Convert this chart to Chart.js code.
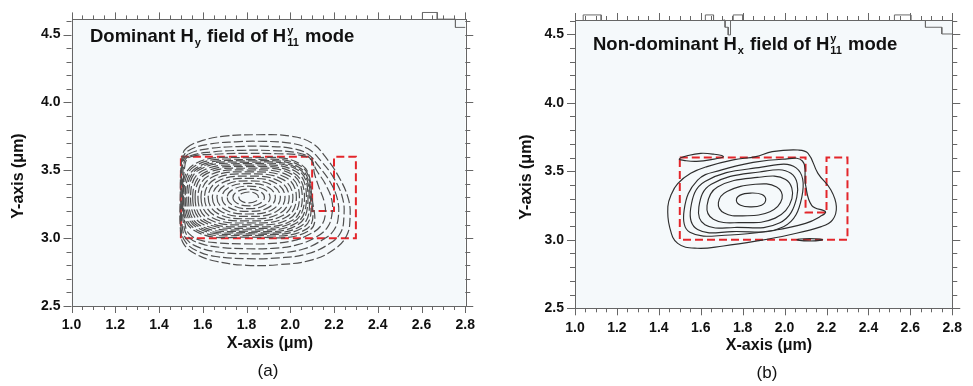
<!DOCTYPE html>
<html><head><meta charset="utf-8">
<script src="https://cdn.jsdelivr.net/npm/chart.js@4.4.1/dist/chart.umd.min.js"></script>
<style>
html,body{margin:0;padding:0;background:#fff;}
#wrap{position:relative;width:973px;height:386px;overflow:hidden;background:#fff;}
canvas{position:absolute;top:0;}
#ca{left:0;width:486px;height:386px;}
#cb{left:486px;width:487px;height:386px;}
</style></head><body>
<div id="wrap"><canvas id="ca" width="486" height="386"></canvas><canvas id="cb" width="487" height="386"></canvas></div>
<script>
// ---------- axes ----------
const xTickValues = [1.0, 1.2, 1.4, 1.6, 1.8, 2.0, 2.2, 2.4, 2.6, 2.8];
const yTickValues = [2.5, 3.0, 3.5, 4.0, 4.5];
const xMinorPerMajor = 4;   // minor ticks every 0.05
const yMinorPerMajor = 5;   // minor ticks every 0.1

// ---------- waveguide outline (red dashed) ----------
const guideX = [1.5, 2.1, 2.1, 2.2, 2.2, 2.3, 2.3, 1.5];
const guideY = [3.6, 3.6, 3.2, 3.2, 3.6, 3.6, 3.0, 3.0];

// ---------- panel (a): dominant Hy contours (dashed) ----------
// inner contours (inside the core): extents of each closed ring
const aCenter = [1.81, 3.30];
const aRingLeft     = [1.765,1.738,1.712,1.688,1.665,1.644,1.625,1.608,1.592,1.578,1.565,1.554,1.544,1.535,1.527,1.520,1.514,1.508];
const aRingRight    = [1.855,1.882,1.908,1.932,1.955,1.976,1.995,2.012,2.028,2.042,2.055,2.065,2.074,2.081,2.087,2.092,2.096,2.099];
const aRingRightLow = [1.855,1.882,1.908,1.932,1.955,1.976,1.995,2.012,2.028,2.042,2.055,2.065,2.074,2.081,2.100,2.115,2.130,2.145];
const aRingTop      = [3.340,3.362,3.383,3.403,3.422,3.440,3.457,3.473,3.488,3.502,3.515,3.527,3.538,3.549,3.559,3.569,3.579,3.592];
const aRingBottom   = [3.260,3.238,3.217,3.197,3.178,3.160,3.143,3.127,3.112,3.098,3.085,3.073,3.062,3.051,3.041,3.031,3.021,3.008];
const aRingCorner   = [0.71,0.71,0.72,0.73,0.74,0.75,0.76,0.77,0.78,0.79,0.80,0.80,0.81,0.82,0.82,0.82,0.83,0.83];
// outer contours (spilling out of the core), traced point by point
const aOuter1 = [[1.545,3.600],[1.650,3.618],[1.800,3.625],[1.940,3.622],[2.050,3.610],[2.100,3.570],[2.110,3.480],[2.130,3.380],[2.155,3.270],[2.160,3.170],[2.140,3.090],[2.090,3.030],[2.010,2.980],[1.900,2.960],[1.780,2.958],[1.670,2.965],[1.600,2.980],[1.550,3.015],[1.522,3.080],[1.512,3.300],[1.520,3.550]];
const aOuter2 = [[1.540,3.605],[1.640,3.635],[1.780,3.647],[1.920,3.645],[2.030,3.630],[2.090,3.590],[2.120,3.500],[2.160,3.400],[2.190,3.280],[2.190,3.170],[2.170,3.080],[2.120,3.010],[2.030,2.950],[1.920,2.925],[1.800,2.922],[1.680,2.932],[1.595,2.958],[1.540,3.000],[1.515,3.075],[1.508,3.300],[1.515,3.560]];
const aOuter3 = [[1.535,3.620],[1.630,3.660],[1.760,3.675],[1.900,3.676],[2.010,3.660],[2.080,3.620],[2.130,3.530],[2.180,3.420],[2.215,3.290],[2.220,3.160],[2.200,3.060],[2.150,2.990],[2.060,2.920],[1.940,2.890],[1.800,2.885],[1.670,2.898],[1.585,2.930],[1.530,2.985],[1.508,3.065],[1.504,3.300],[1.510,3.560]];
const aOuter4 = [[1.530,3.640],[1.620,3.690],[1.750,3.710],[1.880,3.713],[2.000,3.700],[2.080,3.660],[2.140,3.570],[2.200,3.440],[2.240,3.290],[2.245,3.150],[2.230,3.040],[2.180,2.960],[2.080,2.885],[1.950,2.855],[1.800,2.849],[1.660,2.865],[1.575,2.905],[1.522,2.970],[1.502,3.060],[1.500,3.300],[1.507,3.570]];
const aOuter5 = [[1.526,3.664],[1.600,3.720],[1.700,3.752],[1.850,3.762],[2.000,3.752],[2.100,3.700],[2.160,3.600],[2.220,3.457],[2.266,3.287],[2.273,3.140],[2.258,3.020],[2.205,2.922],[2.100,2.840],[1.950,2.805],[1.800,2.800],[1.660,2.830],[1.565,2.885],[1.512,2.960],[1.498,3.060],[1.497,3.300],[1.505,3.590]];

// ---------- panel (b): non-dominant Hx contours (solid) ----------
const bRing1 = [[1.770,3.287],[1.790,3.252],[1.835,3.240],[1.890,3.252],[1.910,3.292],[1.892,3.330],[1.840,3.341],[1.788,3.326]];
const bRing2 = [[1.684,3.270],[1.712,3.195],[1.800,3.175],[1.930,3.205],[1.988,3.300],[1.962,3.385],[1.860,3.405],[1.725,3.352]];
const bRing3 = [[1.630,3.250],[1.660,3.150],[1.780,3.125],[1.955,3.158],[2.035,3.300],[2.005,3.440],[1.870,3.455],[1.680,3.385]];
const bRing4 = [[1.591,3.240],[1.620,3.110],[1.760,3.090],[1.975,3.122],[2.058,3.310],[2.030,3.485],[1.880,3.495],[1.650,3.405]];
const bRing5 = [[1.552,3.230],[1.585,3.075],[1.750,3.060],[1.995,3.095],[2.082,3.310],[2.055,3.525],[1.890,3.530],[1.620,3.425]];
const bRing6 = [[1.521,3.220],[1.548,3.055],[1.740,3.035],[1.950,3.070],[2.100,3.120],[2.170,3.170],[2.195,3.205],[2.130,3.250],[2.100,3.400],[2.085,3.575],[1.990,3.588],[1.850,3.565],[1.700,3.510],[1.585,3.435]];
const bRing7 = [[1.443,3.242],[1.451,3.096],[1.490,2.974],[1.583,2.938],[1.708,2.955],[1.863,2.990],[2.019,3.035],[2.175,3.096],[2.229,3.145],[2.247,3.242],[2.221,3.364],[2.159,3.485],[2.112,3.631],[2.065,3.655],[1.941,3.643],[1.863,3.607],[1.755,3.583],[1.630,3.534],[1.552,3.485],[1.490,3.410],[1.459,3.330]];
const bLensTop    = [[1.498,3.590],[1.540,3.615],[1.600,3.631],[1.660,3.625],[1.708,3.607],[1.650,3.585],[1.580,3.572],[1.530,3.577]];
const bLensBottom = [[2.058,3.000],[2.120,3.009],[2.182,3.000],[2.120,2.991]];

// ---------- stair-step artefacts at the top edge ----------
const aEdge  = [[2.604,4.612],[2.604,4.663],[2.672,4.663],[2.672,4.614],[2.755,4.614],[2.755,4.553],[2.80,4.553]];
const bEdge1 = [[1.039,4.604],[1.039,4.641],[1.125,4.641],[1.125,4.604]];
const bEdge2 = [[1.622,4.604],[1.622,4.641],[1.661,4.641],[1.661,4.604]];
const bEdge3 = [[1.708,4.604],[1.716,4.604],[1.716,4.551],[1.731,4.551],[1.731,4.495],[1.742,4.495],[1.742,4.604]];
const bEdge4 = [[1.755,4.604],[1.755,4.641],[1.801,4.641],[1.801,4.604]];
const bEdge5 = [[2.524,4.604],[2.524,4.641],[2.602,4.641],[2.602,4.604]];
const bEdge6 = [[2.672,4.604],[2.672,4.551],[2.750,4.551],[2.750,4.502],[2.800,4.502]];

// ---------- helpers ----------
const FAM = '"Liberation Sans", Arial, Helvetica, sans-serif';
const pts = arr => arr.map(p => ({x: p[0], y: p[1]}));
function aRing(i) {
  const cx = aCenter[0], cy = aCenter[1], c = aRingCorner[i];
  const L = aRingLeft[i], R = aRingRight[i], Rl = aRingRightLow[i], T = aRingTop[i], B = aRingBottom[i];
  return [
    {x: L, y: cy},
    {x: cx - c*(cx-L), y: cy - c*(cy-B)},
    {x: cx, y: B},
    {x: cx + c*(Rl-cx), y: cy - c*(cy-B)},
    {x: R, y: cy},
    {x: cx + c*(R-cx), y: cy + c*(T-cy)},
    {x: cx, y: T},
    {x: cx - c*(cx-L), y: cy + c*(T-cy)}
  ];
}
function guideDataset() {
  return {data: guideX.map((x, i) => ({x, y: guideY[i]})), borderColor: '#e3262b', borderWidth: 2,
          borderDash: [8, 4], tension: 0, closed: true, pointRadius: 0, fill: false};
}
function edgeDataset(arr) {
  return {data: pts(arr), borderColor: '#6a6a6a', borderWidth: 1, tension: 0, clip: false, pointRadius: 0, fill: false};
}
function aDashed(data) {
  return {data, borderColor: '#505050', borderWidth: 1.2, borderDash: [9, 3],
          tension: 0.42, closed: true, pointRadius: 0, fill: false};
}

function drawRich(ctx, x, y, parts, size) {
  let cx = x;
  ctx.textBaseline = 'alphabetic'; ctx.textAlign = 'left';
  for (const p of parts) {
    if (p.t !== undefined) {
      ctx.font = `bold ${size}px ${FAM}`;
      ctx.fillText(p.t, cx, y); cx += ctx.measureText(p.t).width;
    } else {
      const s = Math.round(size * 0.62);
      ctx.font = `bold ${s}px ${FAM}`;
      let w = 0;
      if (p.sup) { ctx.fillText(p.sup, cx + 1, y - size * 0.42); w = Math.max(w, ctx.measureText(p.sup).width); }
      if (p.sub) { ctx.fillText(p.sub, cx + 1, y + size * 0.24); w = Math.max(w, ctx.measureText(p.sub).width); }
      cx += w + 2;
    }
  }
}

const framePlugin = {
  id: 'frame',
  beforeDraw(chart, args, o) {
    const {ctx, chartArea: a} = chart;
    ctx.save();
    ctx.fillStyle = '#ffffff'; ctx.fillRect(0, 0, chart.width, chart.height);
    ctx.fillStyle = '#f5f9fb'; ctx.fillRect(a.left, a.top, a.right - a.left, a.bottom - a.top);
    ctx.restore();
  },
  beforeDatasetsDraw(chart) {
    chart.data.datasets.forEach((ds, i) => {
      if (!ds.closed) return;
      const line = chart.getDatasetMeta(i).dataset;
      if (!line) return;
      line._loop = true; line._fullLoop = true; line._pointsUpdated = false;
      line._segments = undefined; line._path = undefined;
    });
  },
  afterDraw(chart, args, o) {
    const {ctx, chartArea: a} = chart;
    const xs = chart.scales.x, ys = chart.scales.y;
    ctx.save();
    ctx.strokeStyle = '#666'; ctx.lineWidth = 1;
    ctx.strokeRect(Math.round(a.left) + 0.5, Math.round(a.top) + 0.5, Math.round(a.right - a.left), Math.round(a.bottom - a.top));
    ctx.beginPath();
    for (let i = 0; i < xTickValues.length; i++) {
      const v0 = xTickValues[i];
      const v1 = i + 1 < xTickValues.length ? xTickValues[i + 1] : null;
      const subs = [v0];
      if (v1 !== null) for (let k = 1; k < xMinorPerMajor; k++) subs.push(v0 + (v1 - v0) * k / xMinorPerMajor);
      subs.forEach((v, k) => {
        const len = k === 0 ? 7 : 4;
        const px = Math.round(xs.getPixelForValue(v)) + 0.5;
        ctx.moveTo(px, a.bottom); ctx.lineTo(px, a.bottom + len);
        ctx.moveTo(px, a.top); ctx.lineTo(px, a.top - len);
      });
    }
    const yVals = [];
    for (let i = 0; i < yTickValues.length; i++) {
      const v0 = yTickValues[i];
      for (let k = 0; k < yMinorPerMajor; k++) {
        const v = v0 + 0.5 * k / yMinorPerMajor;
        if (v <= ys.max + 1e-9) yVals.push([v, k === 0]);
      }
    }
    yVals.forEach(([v, major]) => {
      const len = major ? 8 : 5;
      const py = Math.round(ys.getPixelForValue(v)) + 0.5;
      ctx.moveTo(a.left, py); ctx.lineTo(a.left - len, py);
      ctx.moveTo(a.right, py); ctx.lineTo(a.right + len, py);
    });
    ctx.stroke();

    ctx.fillStyle = '#111';
    drawRich(ctx, o.title.x, o.title.y, o.title.parts, 18.5);
    ctx.font = `bold 16px ${FAM}`; ctx.textAlign = 'center'; ctx.textBaseline = 'middle';
    ctx.fillText('X-axis (\u03bcm)', o.xTitle.x, o.xTitle.y);
    ctx.save(); ctx.translate(o.yTitle.x, o.yTitle.y); ctx.rotate(-Math.PI / 2);
    ctx.fillText('Y-axis (\u03bcm)', 0, 0); ctx.restore();
    ctx.font = `17px ${FAM}`; ctx.fillStyle = '#111';
    ctx.fillText(o.label.t, o.label.x, o.label.y);
    ctx.restore();
  }
};

function makeChart(canvas, cfg) {
  return new Chart(canvas, {
    type: 'line',
    data: {datasets: cfg.datasets},
    options: {
      responsive: false, animation: false, events: [],
      layout: {padding: cfg.padding},
      plugins: {legend: {display: false}, tooltip: {enabled: false}, frame: cfg.frame},
      elements: {point: {radius: 0}},
      scales: {
        x: {type: 'linear', min: 1.0, max: 2.8,
            grid: {display: false, drawTicks: false}, border: {display: false},
            afterFit: s => { s.height = cfg.xHeight; },
            afterBuildTicks: s => { s.ticks = xTickValues.map(v => ({value: v})); },
            ticks: {autoSkip: false, maxRotation: 0, padding: cfg.xPad, color: '#111',
                    font: {family: FAM, size: 14, weight: 'bold'}, callback: v => Number(v).toFixed(1)}},
        y: {type: 'linear', min: 2.5, max: cfg.yMax,
            grid: {display: false, drawTicks: false}, border: {display: false},
            afterFit: s => { s.width = cfg.yWidth; },
            afterBuildTicks: s => { s.ticks = yTickValues.map(v => ({value: v})); },
            ticks: {autoSkip: false, padding: cfg.yPad, color: '#111',
                    font: {family: FAM, size: 14, weight: 'bold'}, callback: v => Number(v).toFixed(1)}}
      }
    },
    plugins: [framePlugin]
  });
}

// ---------- panel (a) ----------
const aSets = [];
for (let i = 0; i < aRingLeft.length; i++) aSets.push(aDashed(aRing(i)));
[aOuter1, aOuter2, aOuter3, aOuter4, aOuter5].forEach(r => aSets.push(aDashed(pts(r))));
aSets.push(guideDataset());
aSets.push(edgeDataset(aEdge));

makeChart(document.getElementById('ca'), {
  datasets: aSets,
  padding: {left: 0, top: 17, right: 16, bottom: 0},
  xHeight: 80, yWidth: 71.5, yMax: 4.612, xPad: 11, yPad: 11,
  frame: {
    title: {x: 90, y: 41.5, parts: [{t: 'Dominant H'}, {sub: 'y'}, {t: ' field of H'}, {sup: 'y', sub: '11'}, {t: ' mode'}]},
    xTitle: {x: 270, y: 344}, yTitle: {x: 19, y: 176}, label: {t: '(a)', x: 268, y: 371}
  }
});

// ---------- panel (b) ----------
const bSets = [bRing1, bRing2, bRing3, bRing4, bRing5, bRing6, bRing7, bLensTop, bLensBottom].map(r => ({
  data: pts(r), borderColor: '#2e2e2e', borderWidth: 1.15, tension: 0.42, closed: true, pointRadius: 0, fill: false
}));
bSets.push(guideDataset());
[bEdge1, bEdge2, bEdge3, bEdge4, bEdge5, bEdge6].forEach(e => bSets.push(edgeDataset(e)));

makeChart(document.getElementById('cb'), {
  datasets: bSets,
  padding: {left: 0, top: 20, right: 12.3, bottom: 0},
  xHeight: 77.7, yWidth: 89, yMax: 4.604, xPad: 11, yPad: 11,
  frame: {
    title: {x: 107, y: 49.5, parts: [{t: 'Non-dominant H'}, {sub: 'x'}, {t: ' field of H'}, {sup: 'y', sub: '11'}, {t: ' mode'}]},
    xTitle: {x: 283, y: 346}, yTitle: {x: 41, y: 177}, label: {t: '(b)', x: 281, y: 373}
  }
});
</script>
</body></html>
